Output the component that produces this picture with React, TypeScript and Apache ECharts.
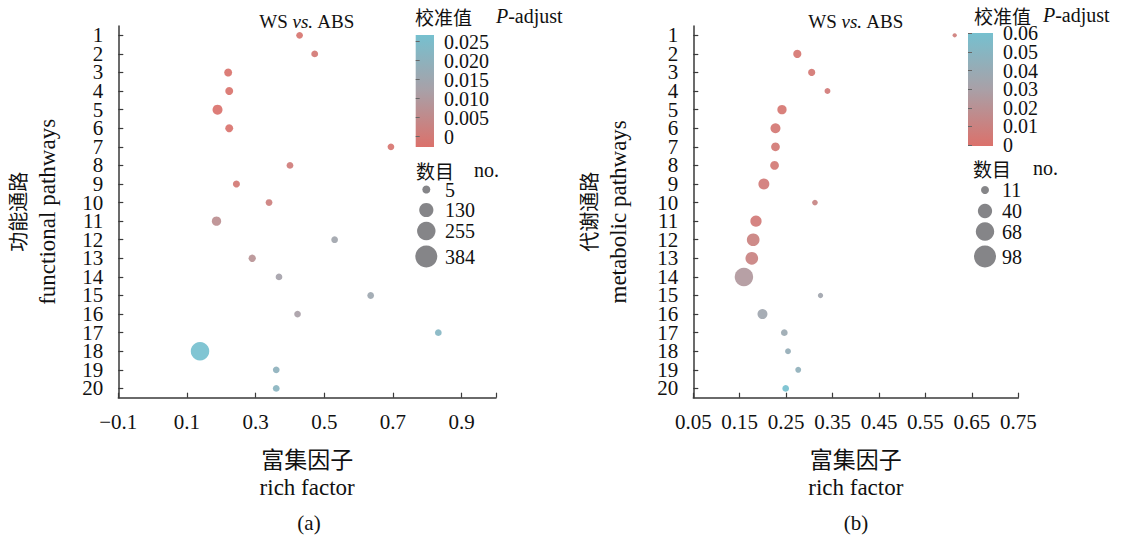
import React, { useEffect, useRef } from "react";
import * as echarts from "echarts";

// ---------- data ----------
const pathways = ["1","2","3","4","5","6","7","8","9","10","11","12","13","14","15","16","17","18","19","20"];

// (a) functional pathways
const richA = [0.428, 0.472, 0.220, 0.223, 0.189, 0.223, 0.694, 0.400, 0.244, 0.339, 0.186, 0.530, 0.290, 0.368, 0.635, 0.422, 0.832, 0.138, 0.360, 0.360];
const padjA = [0.001, 0.002, 0.0005, 0.0005, 0.0003, 0.0006, 0.001, 0.003, 0.002, 0.004, 0.008, 0.015, 0.009, 0.014, 0.016, 0.013, 0.022, 0.026, 0.020, 0.021];
const countA = [5, 8, 28, 28, 75, 28, 5, 6, 12, 6, 58, 5, 16, 5, 5, 5, 5, 384, 6, 6];

// (b) metabolic pathways
const richB = [0.613, 0.274, 0.305, 0.339, 0.241, 0.227, 0.227, 0.225, 0.202, 0.312, 0.185, 0.179, 0.176, 0.159, 0.324, 0.199, 0.246, 0.254, 0.276, 0.249];
const padjB = [0.008, 0.003, 0.004, 0.006, 0.003, 0.004, 0.005, 0.005, 0.006, 0.012, 0.006, 0.010, 0.011, 0.025, 0.035, 0.036, 0.038, 0.042, 0.045, 0.060];
const countB = [3, 17, 13, 8, 23, 27, 20, 20, 33, 7, 35, 45, 45, 98, 6, 27, 11, 8, 8, 11];

// axis ticks
const xTicksA = [-0.1, 0.1, 0.3, 0.5, 0.7, 0.9];
const xTickLabelsA = ["\u22120.1", "0.1", "0.3", "0.5", "0.7", "0.9"];
const xTicksB = [0.05, 0.15, 0.25, 0.35, 0.45, 0.55, 0.65, 0.75];
const xTickLabelsB = ["0.05", "0.15", "0.25", "0.35", "0.45", "0.55", "0.65", "0.75"];

// colour legend ticks (evenly spaced, bottom to top)
const colorTickLabelsA = ["0", "0.005", "0.010", "0.015", "0.020", "0.025"];
const colorTickLabelsB = ["0", "0.01", "0.02", "0.03", "0.04", "0.05", "0.06"];

// size legend breaks
const sizeBreaksA = [5, 130, 255, 384];
const sizeBreaksB = [11, 40, 68, 98];

// ---------- styles ----------
const SERIF = '"Liberation Serif", "Times New Roman", "Noto Sans CJK SC", serif';
const CJK = '"Noto Sans CJK SC", "Liberation Serif", serif';
const TXT = "#111";
const AXIS = "#3a3a3a";
const GRAD = ["#db716b", "#a9a0a7", "#76c0cf"];

// size scale (area-proportional)
const keySizeA = (n: number) => Math.sqrt(Math.max(16, 64 + (n - 5) * (484 - 64) / (384 - 5)));
const keySizeB = (n: number) => Math.sqrt(Math.max(16, 64 + (n - 11) * (484 - 64) / (98 - 11)));
const DOT_SCALE = 0.84;

const fmtFrom = (ticks: number[], labels: string[]) => (v: number) => {
  const i = ticks.findIndex((t) => Math.abs(t - v) < 1e-6);
  return i >= 0 ? labels[i] : "";
};

const grad = () =>
  new echarts.graphic.LinearGradient(0, 1, 0, 0, [
    { offset: 0, color: GRAD[0] },
    { offset: 0.5, color: GRAD[1] },
    { offset: 1, color: GRAD[2] },
  ]);

function catAxis(grid: number, cjk: string, en: string, gap: number) {
  return {
    gridIndex: grid,
    type: "category",
    data: pathways,
    inverse: true,
    boundaryGap: true,
    axisLine: { show: true, onZero: false, lineStyle: { color: AXIS, width: 1.5 } },
    axisTick: { show: true, inside: true, alignWithLabel: true, length: 5, lineStyle: { color: AXIS, width: 1.2 } },
    axisLabel: { interval: 0, fontSize: 21, lineHeight: 16, fontFamily: SERIF, color: TXT, margin: 15 },
    splitLine: { show: false },
    name: `{c|${cjk}}\n{e|${en}}`,
    nameLocation: "middle",
    nameRotate: 90,
    nameGap: gap,
    nameTextStyle: {
      color: TXT,
      rich: {
        c: { fontSize: 20, fontFamily: CJK, color: TXT, lineHeight: 30 },
        e: { fontSize: 23, fontFamily: SERIF, color: TXT, lineHeight: 30 },
      },
    },
  };
}

function valAxis(grid: number, min: number, max: number, interval: number, ticks: number[], labels: string[]) {
  return {
    gridIndex: grid,
    type: "value",
    min,
    max,
    interval,
    axisLine: { show: true, onZero: false, lineStyle: { color: AXIS, width: 1.5 } },
    axisTick: { show: true, inside: true, length: 5, lineStyle: { color: AXIS, width: 1.2 } },
    axisLabel: { fontSize: 21, fontFamily: SERIF, color: TXT, margin: 14, formatter: fmtFrom(ticks, labels), showMinLabel: true, showMaxLabel: true },
    splitLine: { show: false },
    name: "{c|富集因子}\n{e|rich factor}",
    nameLocation: "middle",
    nameGap: 45,
    nameTextStyle: {
      color: TXT,
      rich: {
        c: { fontSize: 23, fontFamily: CJK, color: TXT, lineHeight: 30 },
        e: { fontSize: 23, fontFamily: SERIF, color: TXT, lineHeight: 30 },
      },
    },
  };
}

function colorAxis(grid: number, labels: string[]) {
  return {
    gridIndex: grid,
    type: "category",
    data: labels,
    position: "right",
    boundaryGap: false,
    axisLine: { show: false },
    axisTick: { show: true, interval: 0, length: 4, lineStyle: { color: "#666", width: 1 } },
    axisLabel: { interval: 0, fontSize: 20, lineHeight: 16, fontFamily: SERIF, color: TXT, margin: 10 },
    splitLine: { show: false },
  };
}

function titleText(x: number) {
  return {
    type: "text",
    x,
    y: 21,
    style: {
      text: "{n|WS }{i|vs.}{n| ABS}",
      align: "center",
      verticalAlign: "middle",
      rich: {
        n: { fontSize: 19, fontFamily: SERIF, fill: TXT },
        i: { fontSize: 19, fontFamily: SERIF, fontStyle: "italic", fill: TXT },
      },
    },
  };
}

function header(x: number, xEn: number, y: number, cjk: string, en: string) {
  return [
    { type: "text", x, y, style: { text: cjk, fontSize: 19, fontFamily: CJK, fill: TXT, align: "left", verticalAlign: "middle" } },
    { type: "text", x: xEn, y, style: { text: en, fontSize: 20, fontFamily: SERIF, fill: TXT, align: "left", verticalAlign: "middle", rich: {
      p: { fontSize: 20, fontFamily: SERIF, fontStyle: "italic", fill: TXT },
      n: { fontSize: 20, fontFamily: SERIF, fill: TXT },
    } } },
  ];
}

function sizeLegend(cx: number, lx: number, ys: number[], breaks: number[], fn: (n: number) => number) {
  const out: any[] = [];
  breaks.forEach((b, i) => {
    out.push({ type: "circle", shape: { cx, cy: ys[i], r: fn(b) / 2 }, style: { fill: "#7e7e82", opacity: 0.95 } });
    out.push({ type: "text", x: lx, y: ys[i], style: { text: String(b), fontSize: 20, fontFamily: SERIF, fill: TXT, align: "left", verticalAlign: "middle" } });
  });
  return out;
}

const option: any = {
  animation: false,
  backgroundColor: "#fff",
  grid: [
    { left: 118.3, top: 26, width: 377.7, height: 371.7 },
    { left: 693.3, top: 26, width: 325, height: 371.7 },
    { left: 415.7, top: 41.7, width: 18.3, height: 95 },
    { left: 968, top: 33.3, width: 25, height: 111.7 },
  ],
  xAxis: [
    valAxis(0, -0.1, 1.0, 0.2, xTicksA, xTickLabelsA),
    valAxis(1, 0.05, 0.75, 0.1, xTicksB, xTickLabelsB),
    { gridIndex: 2, type: "value", show: false, min: 0, max: 1 },
    { gridIndex: 3, type: "value", show: false, min: 0, max: 1 },
  ],
  yAxis: [
    catAxis(0, "功能通路", "functional pathways", 56),
    catAxis(1, "代谢通路", "metabolic pathways", 60),
    colorAxis(2, colorTickLabelsA),
    colorAxis(3, colorTickLabelsB),
  ],
  visualMap: [
    { type: "continuous", show: false, seriesIndex: 0, dimension: 2, min: 0, max: 0.026, inRange: { color: GRAD } },
    { type: "continuous", show: false, seriesIndex: 1, dimension: 2, min: 0, max: 0.06, inRange: { color: GRAD } },
  ],
  series: [
    {
      type: "scatter",
      xAxisIndex: 0,
      yAxisIndex: 0,
      silent: true,
      data: pathways.map((p, i) => [richA[i], p, padjA[i], countA[i]]),
      symbolSize: (v: any) => keySizeA(v[3]) * DOT_SCALE,
      itemStyle: { opacity: 0.92 },
    },
    {
      type: "scatter",
      xAxisIndex: 1,
      yAxisIndex: 1,
      silent: true,
      data: pathways.map((p, i) => [richB[i], p, padjB[i], countB[i]]),
      symbolSize: (v: any) => keySizeB(v[3]) * DOT_SCALE,
      itemStyle: { opacity: 0.92 },
    },
  ],
  graphic: [
    titleText(307),
    titleText(856),
    { type: "rect", shape: { x: 415.7, y: 35, width: 18.3, height: 112 }, style: { fill: grad() } },
    { type: "rect", shape: { x: 968, y: 33, width: 25, height: 113 }, style: { fill: grad() } },
    ...header(415, 496, 16, "校准值", "{p|P}{n|-adjust}"),
    ...header(974, 1043, 15, "校准值", "{p|P}{n|-adjust}"),
    ...header(416, 474, 170, "数目", "no."),
    ...header(973, 1033, 168, "数目", "no."),
    ...sizeLegend(426.3, 445, [189.5, 210, 231, 256.5], sizeBreaksA, keySizeA),
    ...sizeLegend(985, 1002, [190, 211, 231.5, 256.5], sizeBreaksB, keySizeB),
    { type: "text", x: 309, y: 523, style: { text: "(a)", fontSize: 21, fontFamily: SERIF, fill: TXT, align: "center", verticalAlign: "middle" } },
    { type: "text", x: 856, y: 523, style: { text: "(b)", fontSize: 21, fontFamily: SERIF, fill: TXT, align: "center", verticalAlign: "middle" } },
  ],
};

export default function App() {
  const ref = useRef<HTMLDivElement>(null);
  useEffect(() => {
    const chart = echarts.init(ref.current!, null, { renderer: "svg" });
    chart.setOption(option);
    return () => chart.dispose();
  }, []);
  return (
    <div
      ref={ref}
      style={{ position: "fixed", left: 0, top: 0, width: 1127, height: 538, background: "#fff" }}
    />
  );
}
